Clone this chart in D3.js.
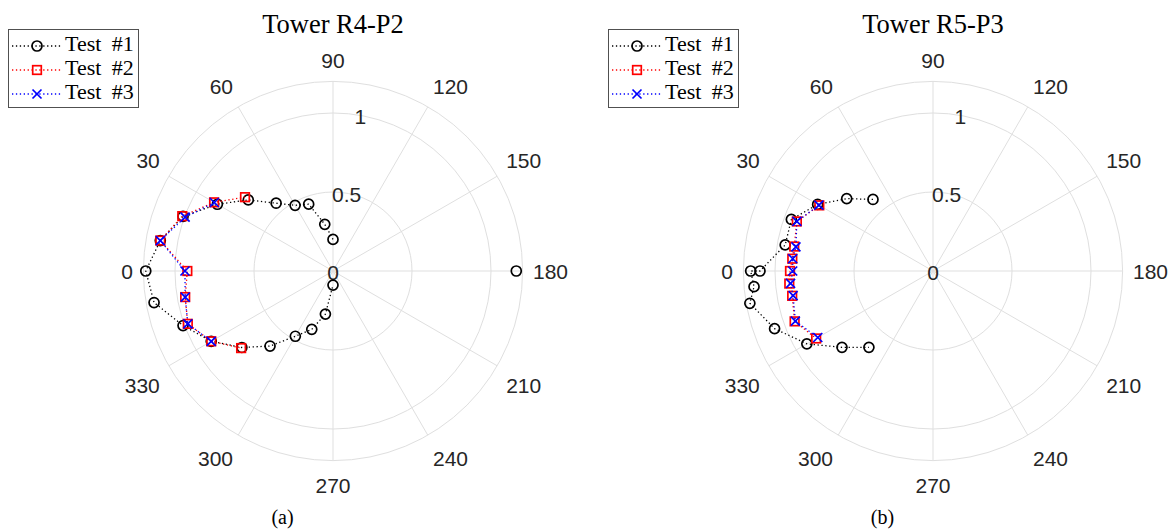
<!DOCTYPE html>
<html>
<head>
<meta charset="utf-8">
<script src="https://cdn.jsdelivr.net/npm/d3@7"></script>
<style>
  body { margin: 0; background: #fff; }
</style>
</head>
<body>
<div id="chart"></div>
<script>
// axes
const thetaTicks = [0, 30, 60, 90, 120, 150, 180, 210, 240, 270, 300, 330]
const rTicks = [0, 0.5, 1]
const rTickLabels = ['0', '0.5', '1']
const rMax = 1.2
const seriesNames = ['Test #1', 'Test #2', 'Test #3']

// Tower R4-P2
const r4Test1Theta = [180, 90, 80, 70, 60, 50, 40, 30, 20, 10, 0, 350, 340, 330, 320, 310, 300, 290, 280, 270]
const r4Test1R = [1.16, 0.20, 0.30, 0.45, 0.48, 0.56, 0.70, 0.845, 1.01, 1.11, 1.185, 1.15, 1.01, 0.89, 0.753, 0.62, 0.477, 0.393, 0.277, 0.089]
const r4Test2Theta = [40, 30, 20, 10, 0, 350, 340, 330, 320]
const r4Test2R = [0.727, 0.869, 1.015, 1.11, 0.922, 0.95, 0.978, 0.89, 0.759]
const r4Test3Theta = [30, 20, 10, 0, 350, 340, 330]
const r4Test3R = [0.867, 0.996, 1.11, 0.937, 0.95, 0.978, 0.89]

// Tower R5-P3
const r5Test1Theta = [50, 40, 30, 20, 10, 0, 0, 355, 350, 340, 330, 320, 310]
const r5Test1R = [0.591, 0.713, 0.843, 0.954, 0.95, 1.095, 1.154, 1.137, 1.177, 1.067, 0.922, 0.752, 0.631]
const r5Test2Theta = [30, 20, 10, 5, 0, 355, 350, 340, 330]
const r5Test2R = [0.831, 0.917, 0.892, 0.894, 0.905, 0.913, 0.905, 0.932, 0.854]
const r5Test3Theta = [30, 20, 10, 5, 0, 355, 350, 340, 330]
const r5Test3R = [0.834, 0.917, 0.881, 0.891, 0.888, 0.905, 0.899, 0.927, 0.842]

const colors = ['#000000', '#ff0000', '#0000ff']
const markers = ['circle', 'square', 'x']
const gridColor = '#dfdfdf'
const tickColor = '#262626'
const sansFont = '"Liberation Sans", Arial, Helvetica, sans-serif'
const serifFont = '"Liberation Serif", "Times New Roman", serif'

const svg = d3.select('#chart').append('svg')
    .attr('width', 1174)
    .attr('height', 531)

function drawMarker (g, type, x, y, color) {
    if (type === 'circle') {
        g.append('circle')
            .attr('cx', x).attr('cy', y).attr('r', 5)
            .attr('fill', 'none').attr('stroke', color).attr('stroke-width', 1.7)
    } else if (type === 'square') {
        g.append('rect')
            .attr('x', x - 4.3).attr('y', y - 4.3)
            .attr('width', 8.6).attr('height', 8.6)
            .attr('fill', 'none').attr('stroke', color).attr('stroke-width', 1.7)
    } else {
        const s = 4.5
        g.append('path')
            .attr('d', `M${x - s},${y - s}L${x + s},${y + s}M${x - s},${y + s}L${x + s},${y - s}`)
            .attr('fill', 'none').attr('stroke', color).attr('stroke-width', 1.7)
    }
}

function drawPanel (offX, title, caption, series) {
    const cx = 333 + offX
    const cy = 271
    const r = d3.scaleLinear().domain([0, rMax]).range([0, 189.6])
    const ang = d3.scaleLinear().domain([0, 360]).range([0, 2 * Math.PI])
    const pt = (deg, v) => [cx - r(v) * Math.cos(ang(deg)), cy - r(v) * Math.sin(ang(deg))]
    const g = svg.append('g')

    // rings
    g.selectAll('circle.ring').data([0.5, 1, rMax]).enter()
        .append('circle')
        .attr('cx', cx).attr('cy', cy)
        .attr('r', d => r(d))
        .attr('fill', 'none')
        .attr('stroke', gridColor)
        .attr('stroke-width', 1)

    // spokes
    g.selectAll('line.spoke').data(thetaTicks).enter()
        .append('line')
        .attr('x1', cx).attr('y1', cy)
        .attr('x2', d => pt(d, rMax)[0])
        .attr('y2', d => pt(d, rMax)[1])
        .attr('stroke', gridColor)
        .attr('stroke-width', 1)

    // theta labels
    thetaTicks.forEach(t => {
        const label = String(t)
        const w = label.length * 0.556 * 21
        const p = pt(t, rMax + 10.4 / 158)
        const dx = -Math.cos(ang(t))
        const dy = -Math.sin(ang(t))
        const ox = Math.abs(dx) < 1e-6 ? 0 : Math.sign(dx) * w / 2
        const oy = Math.abs(dy) < 1e-6 ? 0 : (dy < 0 ? -11 : 14)
        g.append('text')
            .attr('x', p[0] + ox)
            .attr('y', p[1] + oy)
            .attr('text-anchor', 'middle')
            .attr('dominant-baseline', 'central')
            .attr('font-family', sansFont)
            .attr('font-size', 21)
            .attr('fill', tickColor)
            .text(label)
    })

    // r labels along 100 deg
    rTicks.forEach((v, i) => {
        const p = pt(100, v)
        g.append('text')
            .attr('x', p[0])
            .attr('y', p[1] + 1.5)
            .attr('text-anchor', 'middle')
            .attr('dominant-baseline', 'central')
            .attr('font-family', sansFont)
            .attr('font-size', 21)
            .attr('fill', tickColor)
            .text(rTickLabels[i])
    })

    // data
    series.forEach((s, k) => {
        const pts = s.theta.map((t, i) => ({ t: t, v: s.r[i] }))
        // split where the angular step is larger than one 10 deg increment
        const segs = []
        let cur = []
        pts.forEach((d, i) => {
            if (i > 0) {
                let diff = Math.abs(d.t - pts[i - 1].t) % 360
                if (diff > 180) diff = 360 - diff
                if (diff > 10) { segs.push(cur); cur = [] }
            }
            cur.push(d)
        })
        segs.push(cur)
        const line = d3.line().x(d => pt(d.t, d.v)[0]).y(d => pt(d.t, d.v)[1])
        segs.filter(sg => sg.length > 1).forEach(sg => {
            g.append('path')
                .attr('d', line(sg))
                .attr('fill', 'none')
                .attr('stroke', colors[k])
                .attr('stroke-width', 1.3)
                .attr('stroke-dasharray', '1.3,2.6')
        })
        pts.forEach(d => {
            const p = pt(d.t, d.v)
            drawMarker(g, markers[k], p[0], p[1], colors[k])
        })
    })

    // title
    g.append('text')
        .attr('x', cx).attr('y', 33)
        .attr('text-anchor', 'middle')
        .attr('font-family', serifFont)
        .attr('font-size', 26.5)
        .attr('fill', '#000')
        .text(title)

    // caption
    g.append('text')
        .attr('x', cx - 50.5).attr('y', 524)
        .attr('text-anchor', 'middle')
        .attr('font-family', serifFont)
        .attr('font-size', 20)
        .attr('fill', '#000')
        .text(caption)

    // legend
    const lg = g.append('g')
    lg.append('rect')
        .attr('x', 8.5 + offX).attr('y', 29.5)
        .attr('width', 130).attr('height', 78)
        .attr('fill', '#fff')
        .attr('stroke', '#505050')
        .attr('stroke-width', 1)
    seriesNames.forEach((name, k) => {
        const y = 46 + k * 24
        lg.append('line')
            .attr('x1', 12 + offX).attr('x2', 62 + offX)
            .attr('y1', y).attr('y2', y)
            .attr('stroke', colors[k])
            .attr('stroke-width', 1.3)
            .attr('stroke-dasharray', '1.3,2.6')
        drawMarker(lg, markers[k], 37 + offX, y, colors[k])
        lg.append('text')
            .attr('x', 65 + offX).attr('y', y + 5)
            .attr('font-family', serifFont)
            .attr('font-size', 22)
            .attr('word-spacing', 5)
            .attr('fill', '#000')
            .text(name)
    })
}

drawPanel(0, 'Tower R4-P2', '(a)', [
    { theta: r4Test1Theta, r: r4Test1R },
    { theta: r4Test2Theta, r: r4Test2R },
    { theta: r4Test3Theta, r: r4Test3R }
])
drawPanel(600, 'Tower R5-P3', '(b)', [
    { theta: r5Test1Theta, r: r5Test1R },
    { theta: r5Test2Theta, r: r5Test2R },
    { theta: r5Test3Theta, r: r5Test3R }
])
</script>
</body>
</html>
